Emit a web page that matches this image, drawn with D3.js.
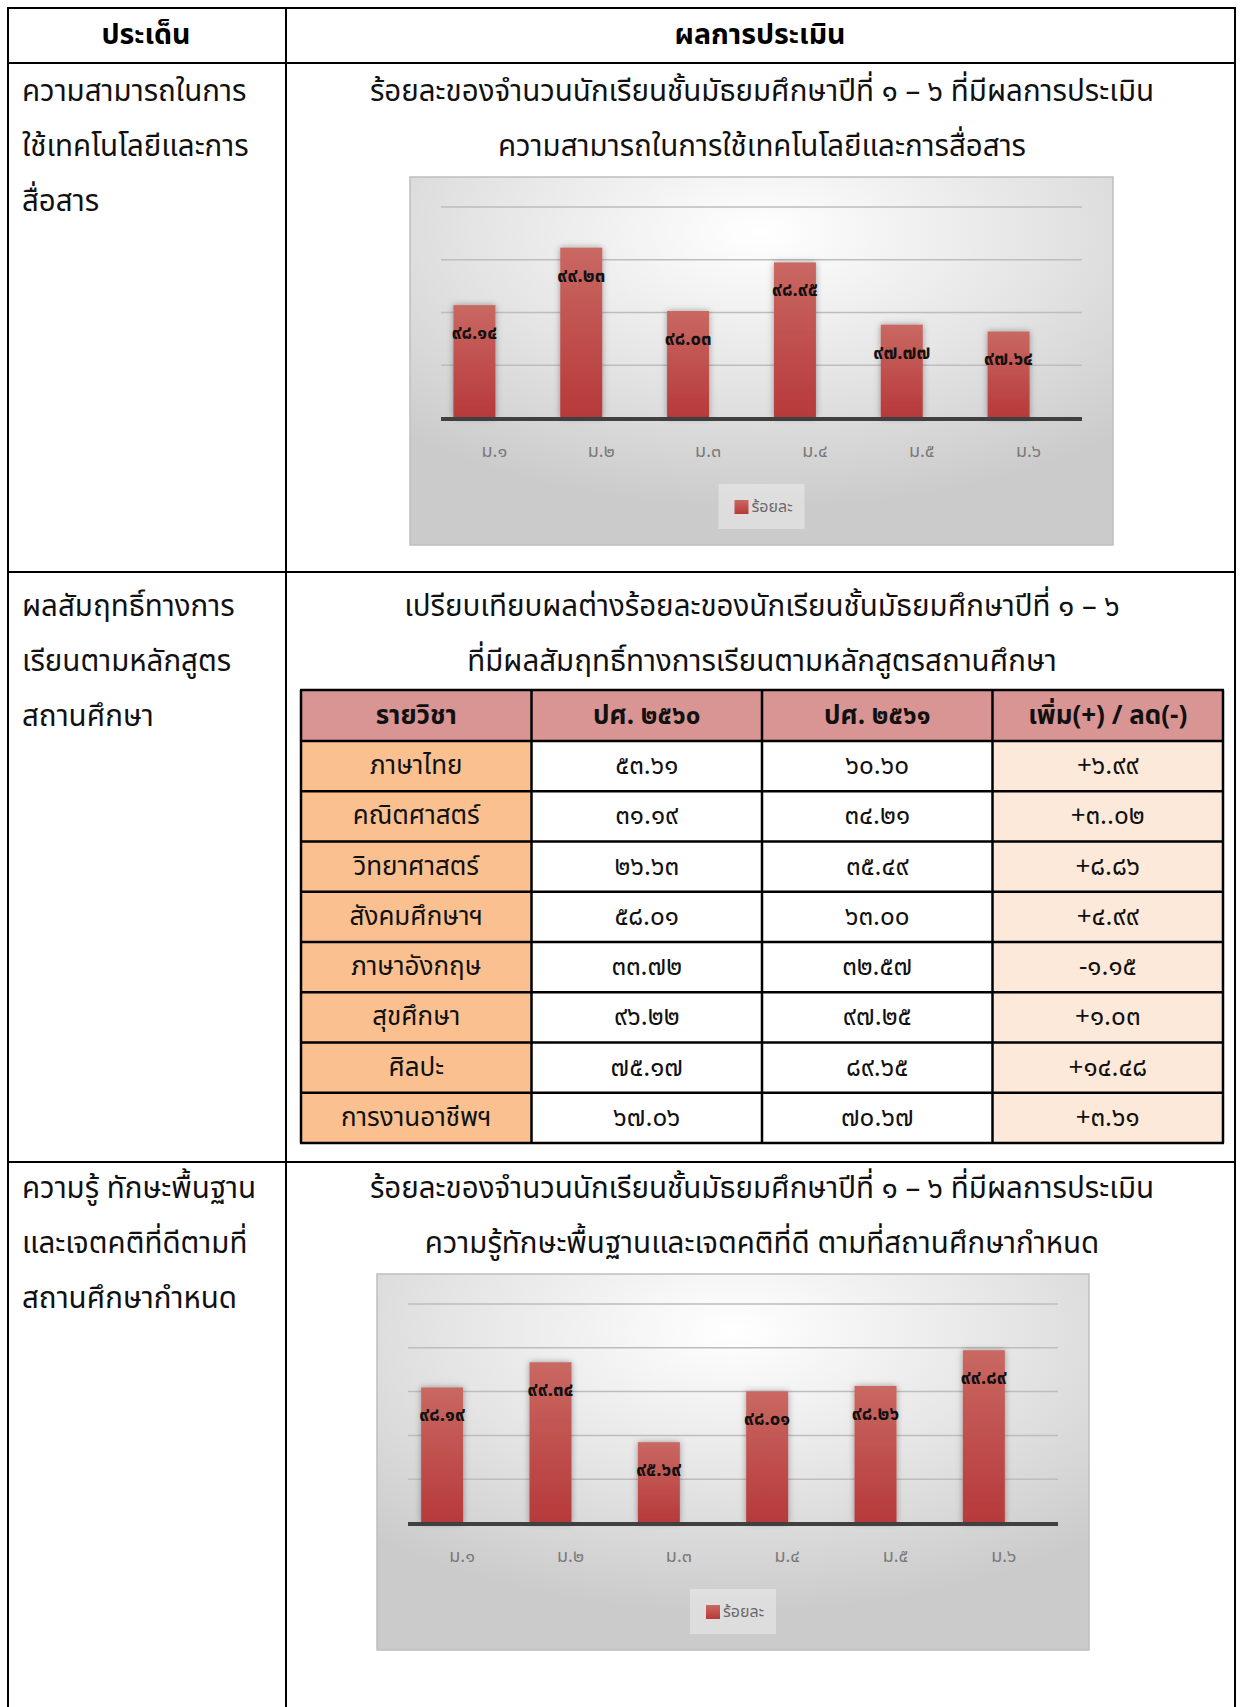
<!DOCTYPE html>
<html lang="th">
<head>
<meta charset="utf-8">
<script src="https://d3js.org/d3.v7.min.js"></script>
<title>ผลการประเมิน</title>
<style>
  body { margin: 0; background: #fff; }
  text { font-family: "Noto Sans Thai", "Noto Sans Thai Looped", Tahoma, "Noto Sans", sans-serif; }
</style>
</head>
<body>
<div id="page"></div>
<script>
// ---- data ----
var grades = ["ม.๑", "ม.๒", "ม.๓", "ม.๔", "ม.๕", "ม.๖"];
var techValues = [98.14, 99.23, 98.03, 98.95, 97.77, 97.64];
var skillValues = [98.19, 99.34, 95.69, 98.01, 98.26, 99.89];
var seriesName = "ร้อยละ";

var tableHeads = ["รายวิชา", "ปศ. ๒๕๖๐", "ปศ. ๒๕๖๑", "เพิ่ม(+) / ลด(-)"];
var subjects = ["ภาษาไทย", "คณิตศาสตร์", "วิทยาศาสตร์", "สังคมศึกษาฯ", "ภาษาอังกฤษ", "สุขศึกษา", "ศิลปะ", "การงานอาชีพฯ"];
var score2560 = ["๕๓.๖๑", "๓๑.๑๙", "๒๖.๖๓", "๕๘.๐๑", "๓๓.๗๒", "๙๖.๒๒", "๗๕.๑๗", "๖๗.๐๖"];
var score2561 = ["๖๐.๖๐", "๓๔.๒๑", "๓๕.๔๙", "๖๓.๐๐", "๓๒.๕๗", "๙๗.๒๕", "๘๙.๖๕", "๗๐.๖๗"];
var diffs = ["+๖.๙๙", "+๓..๐๒", "+๘.๘๖", "+๔.๙๙", "-๑.๑๕", "+๑.๐๓", "+๑๔.๔๘", "+๓.๖๑"];

var headLeft = "ประเด็น", headRight = "ผลการประเมิน";
var topics = [
  ["ความสามารถในการ", "ใช้เทคโนโลยีและการ", "สื่อสาร"],
  ["ผลสัมฤทธิ์ทางการ", "เรียนตามหลักสูตร", "สถานศึกษา"],
  ["ความรู้ ทักษะพื้นฐาน", "และเจตคติที่ดีตามที่", "สถานศึกษากำหนด"]
];
var titles = [
  ["ร้อยละของจำนวนนักเรียนชั้นมัธยมศึกษาปีที่ ๑ – ๖ ที่มีผลการประเมิน", "ความสามารถในการใช้เทคโนโลยีและการสื่อสาร"],
  ["เปรียบเทียบผลต่างร้อยละของนักเรียนชั้นมัธยมศึกษาปีที่ ๑ – ๖", "ที่มีผลสัมฤทธิ์ทางการเรียนตามหลักสูตรสถานศึกษา"],
  ["ร้อยละของจำนวนนักเรียนชั้นมัธยมศึกษาปีที่ ๑ – ๖ ที่มีผลการประเมิน", "ความรู้ทักษะพื้นฐานและเจตคติที่ดี ตามที่สถานศึกษากำหนด"]
];

var thaiDigits = "๐๑๒๓๔๕๖๗๘๙";
function th(s) { return String(s).replace(/[0-9]/g, function(d){ return thaiDigits[+d]; }); }

var W = 1240, H = 1707;
var svg = d3.select("#page").append("svg")
  .attr("width", W).attr("height", H);

var defs = svg.append("defs");
var bg = defs.append("radialGradient").attr("id", "chartBg")
  .attr("cx", "50%").attr("cy", "15%").attr("r", "75%");
bg.append("stop").attr("offset", "0%").attr("stop-color", "#ffffff");
bg.append("stop").attr("offset", "55%").attr("stop-color", "#e4e4e4");
bg.append("stop").attr("offset", "100%").attr("stop-color", "#cbcbcb");
var barGrad = defs.append("linearGradient").attr("id", "barGrad")
  .attr("x1", 0).attr("y1", 0).attr("x2", 0).attr("y2", 1);
barGrad.append("stop").attr("offset", "0%").attr("stop-color", "#c96862");
barGrad.append("stop").attr("offset", "100%").attr("stop-color", "#b7393a");
var shadow = defs.append("filter").attr("id", "barShadow")
  .attr("x", "-40%").attr("y", "-10%").attr("width", "180%").attr("height", "120%");
shadow.append("feDropShadow").attr("dx", 0).attr("dy", 0).attr("stdDeviation", 3)
  .attr("flood-color", "#000").attr("flood-opacity", 0.35);

// ---- outer table ----
var colL = 8, colM = 286, colR = 1235;
var rowLines = [8, 63, 572, 1162];
var frame = svg.append("g").attr("stroke", "#000").attr("stroke-width", 2);
[colL, colM, colR].forEach(function(x){
  frame.append("line").attr("x1", x).attr("x2", x).attr("y1", rowLines[0]).attr("y2", H);
});
rowLines.forEach(function(y){
  frame.append("line").attr("x1", colL - 1).attr("x2", colR + 1).attr("y1", y).attr("y2", y);
});

svg.append("text").attr("x", 146).attr("y", 35).attr("text-anchor", "middle")
  .attr("dominant-baseline", "central").attr("font-size", 28.5).attr("font-weight", "bold")
  .text(headLeft);
svg.append("text").attr("x", 760).attr("y", 35).attr("text-anchor", "middle")
  .attr("dominant-baseline", "central").attr("font-size", 28.5).attr("font-weight", "bold")
  .text(headRight);

var rowTop = [92, 607, 1189];
topics.forEach(function(lines, i){
  lines.forEach(function(t, j){
    svg.append("text").attr("x", 22).attr("y", rowTop[i] + j * 55)
      .attr("dominant-baseline", "central").attr("font-size", 29.5).attr("fill", "#111")
      .text(t);
  });
});
titles.forEach(function(lines, i){
  lines.forEach(function(t, j){
    svg.append("text").attr("x", 762).attr("y", rowTop[i] + j * 55)
      .attr("text-anchor", "middle").attr("dominant-baseline", "central")
      .attr("font-size", 29.5).attr("fill", "#111")
      .text(t);
  });
});

// ---- bar chart ----
function drawChart(box, values, yMin, yMax, yStep) {
  var g = svg.append("g");
  g.append("rect").attr("x", box.x).attr("y", box.y).attr("width", box.w).attr("height", box.h)
    .attr("fill", "url(#chartBg)").attr("stroke", "#bfbfbf").attr("stroke-width", 1.5);

  var left = box.x + 31, right = box.x + box.w - 31;
  var top = box.y + 30, axisY = top + box.plotH;

  var x = d3.scaleBand().domain(grades).range([left, right]);
  var y = d3.scaleLinear().domain([yMin, yMax]).range([axisY, top]);

  var ticks = d3.range(yMin + yStep, yMax + yStep / 2, yStep);
  g.append("g").selectAll("line").data(ticks).join("line")
    .attr("x1", left).attr("x2", right)
    .attr("y1", function(d){ return y(d); }).attr("y2", function(d){ return y(d); })
    .attr("stroke", "#bdbdbd").attr("stroke-width", 1.5);

  var barW = 42, shift = -20;
  g.append("g").selectAll("rect").data(values).join("rect")
    .attr("x", function(d, i){ return x(grades[i]) + x.bandwidth() / 2 + shift - barW / 2; })
    .attr("y", function(d){ return y(d); })
    .attr("width", barW)
    .attr("height", function(d){ return axisY - y(d); })
    .attr("fill", "url(#barGrad)")
    .attr("filter", "url(#barShadow)");

  g.append("line").attr("x1", left).attr("x2", right).attr("y1", axisY + 1).attr("y2", axisY + 1)
    .attr("stroke", "#404040").attr("stroke-width", 4);

  g.append("g").selectAll("text").data(values).join("text")
    .attr("x", function(d, i){ return x(grades[i]) + x.bandwidth() / 2 + shift; })
    .attr("y", function(d){ return y(d) + 28; })
    .attr("text-anchor", "middle").attr("dominant-baseline", "central")
    .attr("font-size", 18.5).attr("font-weight", "bold").attr("fill", "#111")
    .text(function(d){ return th(d.toFixed(2)); });

  g.append("g").selectAll("text").data(grades).join("text")
    .attr("x", function(d){ return x(d) + x.bandwidth() / 2; })
    .attr("y", axisY + 33)
    .attr("text-anchor", "middle").attr("dominant-baseline", "central")
    .attr("font-size", 18).attr("fill", "#7a7a7a")
    .text(function(d){ return d; });

  var cx = box.x + box.w / 2, ly = axisY + 89;
  g.append("rect").attr("x", cx - 43).attr("y", ly - 23).attr("width", 86).attr("height", 45)
    .attr("fill", "#ffffff").attr("fill-opacity", 0.35);
  g.append("rect").attr("x", cx - 27).attr("y", ly - 7).attr("width", 14).attr("height", 14)
    .attr("fill", "url(#barGrad)");
  g.append("text").attr("x", cx - 10).attr("y", ly)
    .attr("dominant-baseline", "central").attr("font-size", 16).attr("fill", "#6a6a6a")
    .text(seriesName);
}

drawChart({x: 410, y: 177, w: 703, h: 368, plotH: 211}, techValues, 96, 100, 1);
drawChart({x: 377, y: 1274, w: 712, h: 376, plotH: 219}, skillValues, 92, 102, 2);

// ---- inner table ----
var tL = 301, tR = 1223, headTop = 690, headBot = 741, tBot = 1143;
var cols = d3.scaleBand().domain(d3.range(4)).range([tL, tR]);
var rows = d3.scaleBand().domain(d3.range(subjects.length)).range([headBot, tBot]);
var colFill = ["#fac090", "#ffffff", "#ffffff", "#fde9d9"];
var tbl = svg.append("g");

tbl.selectAll("rect.head").data(tableHeads).join("rect").attr("class", "head")
  .attr("x", function(d, i){ return cols(i); }).attr("y", headTop)
  .attr("width", cols.bandwidth()).attr("height", headBot - headTop)
  .attr("fill", "#d99594");
tbl.selectAll("text.head").data(tableHeads).join("text").attr("class", "head")
  .attr("x", function(d, i){ return cols(i) + cols.bandwidth() / 2; })
  .attr("y", (headTop + headBot) / 2)
  .attr("text-anchor", "middle").attr("dominant-baseline", "central")
  .attr("font-size", 26).attr("font-weight", "bold").attr("fill", "#111")
  .text(function(d){ return d; });

var cells = [];
subjects.forEach(function(s, r){
  [s, score2560[r], score2561[r], diffs[r]].forEach(function(v, c){
    cells.push({r: r, c: c, v: v});
  });
});
tbl.selectAll("rect.cell").data(cells).join("rect").attr("class", "cell")
  .attr("x", function(d){ return cols(d.c); }).attr("y", function(d){ return rows(d.r); })
  .attr("width", cols.bandwidth()).attr("height", rows.bandwidth())
  .attr("fill", function(d){ return colFill[d.c]; });
tbl.selectAll("text.cell").data(cells).join("text").attr("class", "cell")
  .attr("x", function(d){ return cols(d.c) + cols.bandwidth() / 2; })
  .attr("y", function(d){ return rows(d.r) + rows.bandwidth() / 2; })
  .attr("text-anchor", "middle").attr("dominant-baseline", "central")
  .attr("font-size", 26).attr("fill", "#111")
  .text(function(d){ return d.v; });

var grid = tbl.append("g").attr("stroke", "#000").attr("stroke-width", 2.5);
d3.range(5).forEach(function(i){
  var xx = i < 4 ? cols(i) : tR;
  grid.append("line").attr("x1", xx).attr("x2", xx).attr("y1", headTop).attr("y2", tBot);
});
[headTop, headBot].concat(d3.range(1, subjects.length + 1).map(function(r){ return r < subjects.length ? rows(r) : tBot; }))
  .forEach(function(yy){
    grid.append("line").attr("x1", tL - 1).attr("x2", tR + 1).attr("y1", yy).attr("y2", yy);
  });
</script>
</body>
</html>
